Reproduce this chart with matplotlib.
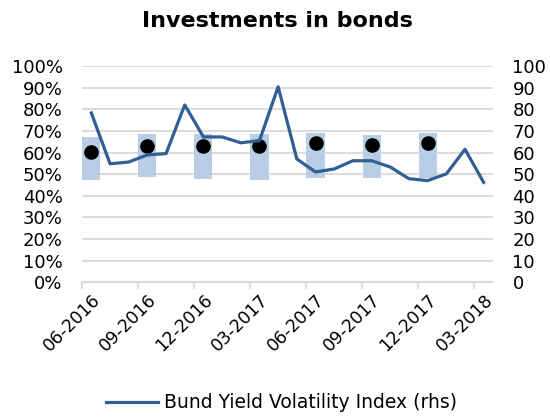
import matplotlib
matplotlib.use("Agg")
import matplotlib.pyplot as plt
import numpy as np

plt.rcParams['font.family'] = ['DejaVu Sans']

months = ["06-2016", "07-2016", "08-2016", "09-2016", "10-2016", "11-2016",
          "12-2016", "01-2017", "02-2017", "03-2017", "04-2017", "05-2017",
          "06-2017", "07-2017", "08-2017", "09-2017", "10-2017", "11-2017",
          "12-2017", "01-2018", "02-2018", "03-2018"]
bund_vol = [78.3, 54.8, 55.6, 58.9, 59.5, 82.0, 67.2, 67.2, 64.5, 65.5, 90.4,
            57.0, 51.0, 52.4, 56.2, 56.2, 53.3, 47.9, 47.0, 50.1, 61.5, 46.2]

bar_months = ["06-2016", "09-2016", "12-2016", "03-2017", "06-2017", "09-2017", "12-2017"]
bar_low = [47.4, 48.8, 47.9, 47.4, 48.1, 48.1, 48.1]
bar_high = [67.3, 68.6, 68.6, 68.6, 69.2, 68.1, 69.2]
dot_vals = [60.4, 63.2, 63.2, 63.2, 64.3, 63.6, 64.3]

tick_labels = ["06-2016", "09-2016", "12-2016", "03-2017", "06-2017",
               "09-2017", "12-2017", "03-2018"]

line_color = "#2F5F94"
bar_color = "#B9CDE5"
grid_color = "#D9D9D9"

fig = plt.figure(figsize=(5.5, 4.17), dpi=100)
ax = fig.add_axes([82/550, 1-282.3/417, (493-82)/550, (282.3-66)/417])

x = np.arange(len(months))
bx = np.array([months.index(m) for m in bar_months])
ax.bar(bx, np.array(bar_high) - np.array(bar_low), bottom=bar_low, width=0.97,
       color=bar_color, zorder=2)
ax.plot(bx, dot_vals, 'o', color='black', markersize=9.5, zorder=4)

ax.set_xlim(-0.5, len(months) - 0.5)
ax.set_ylim(0, 100)
ax.set_yticks(np.arange(0, 101, 10))
ax.set_yticklabels([f"{v}%" for v in range(0, 101, 10)])
ax.grid(axis='y', color=grid_color, linewidth=1.3)
ax.set_axisbelow(True)

ax.set_xticks(np.arange(-0.5, len(months), 3), minor=False)
ax.set_xticklabels([""] * len(np.arange(-0.5, len(months), 3)))
lab_pos = [months.index(m) for m in tick_labels]
ax.set_xticks(lab_pos, minor=True)
ax.set_xticklabels(tick_labels, minor=True, rotation=45, ha='right',
                   rotation_mode='anchor', fontsize=12.5)
ax.tick_params(axis='x', which='minor', length=0, pad=6)
ax.tick_params(axis='x', which='major', length=5, color=grid_color, width=1.3)
ax.tick_params(axis='y', length=0, pad=14, labelsize=13)

for s in ['top', 'left', 'right']:
    ax.spines[s].set_visible(False)
ax.spines['bottom'].set_color(grid_color)
ax.spines['bottom'].set_linewidth(1.3)

ax2 = ax.twinx()
ln, = ax2.plot(x, bund_vol, color=line_color, linewidth=2.3, zorder=3,
               label="Bund Yield Volatility Index (rhs)")
ax2.set_ylim(0, 100)
ax2.set_yticks(np.arange(0, 101, 10))
ax2.tick_params(axis='y', length=0, pad=14, labelsize=13)
for s in ['top', 'left', 'right', 'bottom']:
    ax2.spines[s].set_visible(False)

fig.text(277/550, 1-21/417, "Investments in bonds", ha='center', va='center',
         fontsize=16, fontweight='bold')

fig.legend(handles=[ln], loc='center', bbox_to_anchor=(281.5/550, 1-403/417),
           frameon=False, fontsize=13.5, handlelength=2.8, handletextpad=0.32)

fig.savefig("out.png", dpi=100)
